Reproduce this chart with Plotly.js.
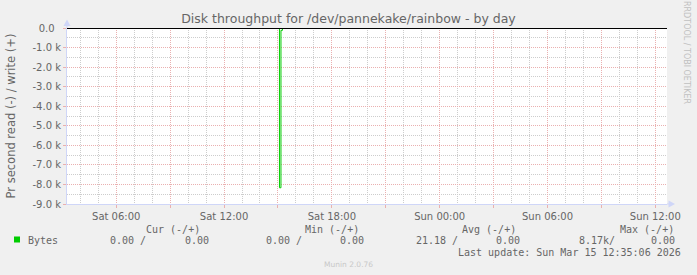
<!DOCTYPE html>
<html><head><meta charset="utf-8">
<script src="https://cdn.plot.ly/plotly-3.0.1.min.js"></script>
<style>html,body{margin:0;padding:0;background:#f0f0f0}</style>
</head><body><div id="chart" style="width:697px;height:275px"></div>
<script>
// ---- data ----
const sampleTimes = ['2026-03-14 03:15', '2026-03-14 15:05', '2026-03-14 15:10', '2026-03-14 15:15', '2026-03-15 12:35'];
const readBytes  = [0, 8170, 120, 0, 0];   // read per second (drawn negative)
const writeBytes = [0, 0, 0, 0, 0];        // write per second (drawn positive)
const xRange = ['2026-03-14 03:15:36', '2026-03-15 12:39:00'];
const xTickVals = ['2026-03-14 06:00','2026-03-14 09:00','2026-03-14 12:00','2026-03-14 15:00','2026-03-14 18:00','2026-03-14 21:00',
                   '2026-03-15 00:00','2026-03-15 03:00','2026-03-15 06:00','2026-03-15 09:00','2026-03-15 12:00'];
const xTickText = ['Sat 06:00','','Sat 12:00','','Sat 18:00','','Sun 00:00','','Sun 06:00','','Sun 12:00'];
const yTickVals = [0,-1000,-2000,-3000,-4000,-5000,-6000,-7000,-8000,-9000];
const yTickText = ['0.0\u00a0\u00a0','-1.0 k','-2.0 k','-3.0 k','-4.0 k','-5.0 k','-6.0 k','-7.0 k','-8.0 k','-9.0 k'];
const seriesNames = ['Bytes'];
const curVals = [['0.00 /','0.00']];
const minVals = [['0.00 /','0.00']];
const avgVals = [['21.18 /','0.00']];
const maxVals = [['8.17k/','0.00']];
const legendHeads = ['Cur (-/+)','Min (-/+)','Avg (-/+)','Max (-/+)'];
const lastUpdate = 'Sun Mar 15 12:35:06 2026';
const titleText = 'Disk throughput for /dev/pannekake/rainbow - by day';
const yTitle = 'Pr second read (-) / write (+)';

// ---- layout helpers (pixel -> paper) ----
const L = 67, T = 28, W = 600, H = 176;
const px = x => (x - L) / W;
const py = y => (T + H - y) / H;

const green = '#00cc00';
const axisCol = '#cfd6f8';
const mgrid = '#eab0b0';
const grid = '#cdcdcd';
const fontCol = '#666666';
const sans = 'DejaVu Sans, sans-serif';
const mono = 'DejaVu Sans Mono, monospace';

// minor grid positions (hourly / half-k), skipping the major ones
const hourMs = 3600000;
const x0ms = Date.parse('2026-03-14T03:00:00Z'), x1ms = Date.parse('2026-03-15T13:00:00Z');
const minorX = [];
for (let t = x0ms; t <= x1ms; t += hourMs) {
  const d = new Date(t);
  if (d.getUTCHours() % 3 !== 0) minorX.push(d.toISOString().slice(0, 19).replace('T', ' '));
}
const minorY = [];
for (let v = -500; v >= -9000; v -= 1000) minorY.push(v);

const traces = [
  {x: sampleTimes, y: writeBytes, type: 'scatter', mode: 'lines',
   line: {color: green, width: 1, shape: 'hv'}, hoverinfo: 'skip', showlegend: false},
  {x: sampleTimes, y: readBytes.map(v => -v), type: 'scatter', mode: 'lines',
   line: {color: green, width: 1, shape: 'hv'}, hoverinfo: 'skip', showlegend: false}
];

const ann = [];
function txt(text, x, y, anchor, opts) {
  ann.push(Object.assign({text: text, xref: 'paper', yref: 'paper', x: px(x), y: py(y),
    xanchor: anchor, yanchor: 'middle', showarrow: false,
    font: {family: mono, size: 10, color: fontCol}}, opts || {}));
}
const headRight = [202, 361, 518, 676];
legendHeads.forEach((h, i) => txt(h, headRight[i], 229, 'right'));
const colRight = [[148, 211], [304, 366], [460, 522], [617, 677]];
seriesNames.forEach((n, r) => {
  const y = 240 + r * 11;
  txt(n, 26, y, 'left');
  [curVals, minVals, avgVals, maxVals].forEach((arr, c) => {
    txt(arr[r][0], colRight[c][0], y, 'right');
    txt(arr[r][1], colRight[c][1], y, 'right');
  });
});
txt('Last update: ' + lastUpdate, 683, 252.5, 'right');
txt('Munin 2.0.76', 348, 264, 'center', {font: {family: sans, size: 7.5, color: '#c8c8c8'}});
txt('RRDTOOL / TOBI OETIKER', 687, 52, 'center', {textangle: 90, font: {family: sans, size: 8, color: '#c0c0c0'}});

const shapes = [
  {type: 'rect', xref: 'paper', yref: 'paper', x0: px(14), x1: px(20), y0: py(242.5), y1: py(236.5),
   fillcolor: green, line: {width: 0}},
  // black zero rule along the top of the canvas
  {type: 'line', xref: 'paper', yref: 'paper', x0: 0, x1: 1, y0: py(28.5), y1: py(28.5), layer: 'above',
   line: {color: '#000000', width: 1}},
  // axis extensions and arrows
  {type: 'line', xref: 'paper', yref: 'paper', x0: px(67), x1: px(67), y0: py(28), y1: py(25),
   line: {color: axisCol, width: 1}},
  {type: 'path', xref: 'paper', yref: 'paper',
   path: `M${px(63.5)},${py(26)} L${px(70.5)},${py(26)} L${px(67)},${py(19.5)} Z`,
   fillcolor: axisCol, line: {width: 0}},
  {type: 'line', xref: 'paper', yref: 'paper', x0: px(667), x1: px(669), y0: py(204), y1: py(204),
   line: {color: axisCol, width: 1}},
  {type: 'path', xref: 'paper', yref: 'paper',
   path: `M${px(668.5)},${py(200.5)} L${px(668.5)},${py(207.5)} L${px(675)},${py(204)} Z`,
   fillcolor: axisCol, line: {width: 0}}
];

const layout = {
  width: 697, height: 275,
  paper_bgcolor: '#f0f0f0', plot_bgcolor: '#ffffff',
  margin: {l: L, r: 697 - L - W, t: T, b: 275 - T - H, pad: 0},
  showlegend: false,
  title: {text: titleText, x: 0.5, xref: 'container', xanchor: 'center', y: 1 - 19 / 275, yref: 'container', yanchor: 'middle',
          font: {family: sans, size: 12.5, color: fontCol}},
  xaxis: {type: 'date', range: xRange, tickmode: 'array', tickvals: xTickVals, ticktext: xTickText,
          showgrid: true, gridcolor: mgrid, griddash: '1px,1px', gridwidth: 1,
          ticks: 'outside', ticklen: 3, tickcolor: mgrid, tickwidth: 1,
          showline: true, linecolor: axisCol, linewidth: 1, zeroline: false,
          tickfont: {family: sans, size: 10, color: fontCol},
          minor: {tickmode: 'array', tickvals: minorX, showgrid: true, gridcolor: grid, griddash: '1px,1px', gridwidth: 1, ticks: ''},
          fixedrange: true},
  yaxis: {range: [-9000, 0], tickmode: 'array', tickvals: yTickVals, ticktext: yTickText,
          showgrid: true, gridcolor: mgrid, griddash: '1px,1px', gridwidth: 1,
          ticks: 'outside', ticklen: 3, tickcolor: mgrid, tickwidth: 1,
          showline: true, linecolor: axisCol, linewidth: 1, zeroline: false,
          tickfont: {family: sans, size: 10, color: fontCol},
          minor: {tickmode: 'array', tickvals: minorY, showgrid: true, gridcolor: grid, griddash: '1px,1px', gridwidth: 1, ticks: ''},
          title: {text: yTitle, font: {family: sans, size: 11.5, color: fontCol}, standoff: 14},
          fixedrange: true},
  annotations: ann,
  shapes: shapes
};

Plotly.newPlot('chart', traces, layout, {displayModeBar: false, staticPlot: true});
</script>
</body></html>
